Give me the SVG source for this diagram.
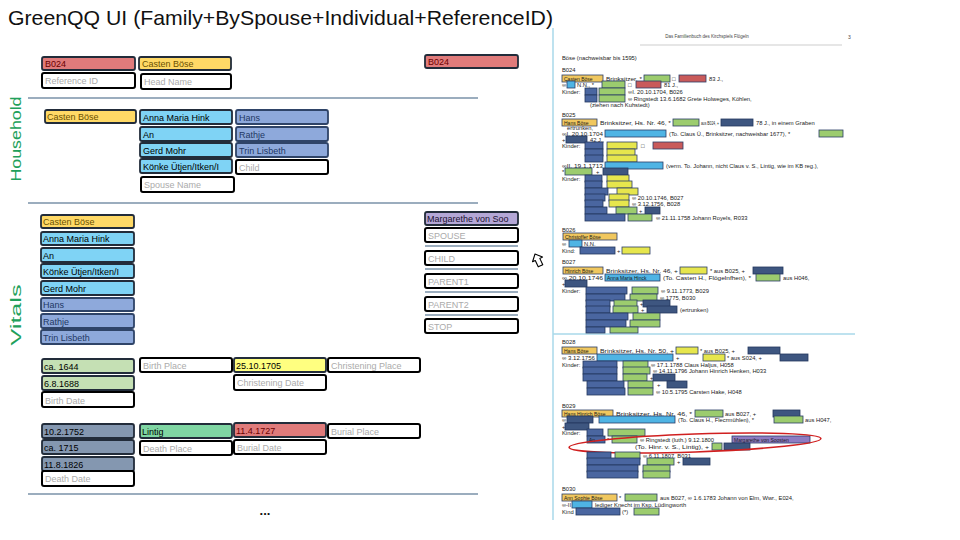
<svg xmlns="http://www.w3.org/2000/svg" width="960" height="540" viewBox="0 0 960 540">
<style>
text{font-family:"Liberation Sans",Arial,sans-serif}
.bx rect{stroke:#222c3a;stroke-width:1.8}
.bx text{font-size:9px}
.w rect{fill:#fff;stroke:#000;stroke-width:2}
.w text{fill:#ababab}
.red rect{fill:#e07b7b}.red text{fill:#6b0000}
.yel rect{fill:#ffd966}.yel text{fill:#6b5100}
.sky rect{fill:#7fd3f5}.sky text{fill:#000}
.per rect{fill:#8ea9db;stroke:#2f4468}.per text{fill:#1f3864}
.pur rect{fill:#b4a7d6}.pur text{fill:#1a1030}
.lg rect{fill:#c5e0b4}.lg text{fill:#000}
.by rect{fill:#ffff80}.by text{fill:#000}
.sl rect{fill:#8497b0}.sl text{fill:#000}
.gr rect{fill:#7fd6a3}.gr text{fill:#000}
.sep{stroke:#7a92a8;stroke-width:1.5}
.lbl{fill:#21a05a;font-size:15px}
.st{font-size:5.8px;fill:#222}
.sn{font-size:5px;fill:#1a1a1a}
.hy{fill:#f0c75e;stroke:#2c3e66;stroke-width:.8}
.hb{fill:#4fb4e4;stroke:#2c3e66;stroke-width:.8}
.hp{fill:#4a66a0;stroke:#24375e;stroke-width:.8}
.hg{fill:#9ccc6e;stroke:#2c3e66;stroke-width:.8}
.hr{fill:#c95a5a;stroke:#2c3e66;stroke-width:.8}
.hs{fill:#3e5680;stroke:#24375e;stroke-width:.8}
.hyl{fill:#e6e64d;stroke:#2c3e66;stroke-width:.8}
.hv{fill:#8e7cc3;stroke:#2c3e66;stroke-width:.8}
</style>
<rect width="960" height="540" fill="#fff"/>
<text x="8" y="25" font-size="21" fill="#111" textLength="545" lengthAdjust="spacingAndGlyphs" font-family="'Liberation Sans',Arial,sans-serif">GreenQQ UI (Family+BySpouse+Individual+ReferenceID)</text>

<text class="lbl" transform="translate(20.5,139) rotate(-90)" text-anchor="middle" textLength="85" lengthAdjust="spacingAndGlyphs">Household</text>
<text class="lbl" transform="translate(20.5,315) rotate(-90)" text-anchor="middle" textLength="61" lengthAdjust="spacingAndGlyphs">Vitals</text>

<g id="separators">
<line class="sep" x1="28" y1="98" x2="478" y2="98"/>
<line class="sep" x1="28" y1="203" x2="478" y2="203"/>
<line class="sep" x1="28" y1="494" x2="478" y2="494"/>
<line class="sep" x1="425" y1="246" x2="518" y2="246"/>
<line class="sep" x1="425" y1="269" x2="518" y2="269"/>
<line class="sep" x1="425" y1="292" x2="518" y2="292"/>
<line class="sep" x1="425" y1="315" x2="518" y2="315"/>
</g>
<g id="connectors"/>

<!-- header -->
<g id="hdr-ref" class="bx red"><rect x="42" y="57" width="93" height="13" rx="2"/><text x="45" y="67">B024</text></g>
<g id="hdr-head" class="bx yel"><rect x="139" y="57" width="92" height="13" rx="2"/><text x="142" y="67">Casten Böse</text></g>
<g id="hdr-ref-ph" class="bx w"><rect x="42" y="73" width="93" height="15" rx="2"/><text x="45" y="84">Reference ID</text></g>
<g id="hdr-head-ph" class="bx w"><rect x="141" y="74" width="90" height="15" rx="2"/><text x="144" y="85">Head Name</text></g>
<g id="hdr-ref2" class="bx red"><rect x="425" y="55" width="93" height="13" rx="2"/><text x="428" y="65">B024</text></g>

<!-- household -->
<g id="hh-head" class="bx yel"><rect x="45" y="110" width="91" height="13" rx="2"/><text x="47" y="120">Casten Böse</text></g>
<g id="hh-sp1" class="bx sky"><rect x="140" y="110" width="92" height="14" rx="2"/><text x="143" y="121">Anna Maria Hink</text></g>
<g id="hh-sp2" class="bx sky"><rect x="140" y="127" width="92" height="14" rx="2"/><text x="143" y="138">An</text></g>
<g id="hh-sp3" class="bx sky"><rect x="140" y="143" width="92" height="14" rx="2"/><text x="143" y="154">Gerd Mohr</text></g>
<g id="hh-sp4" class="bx sky"><rect x="140" y="159" width="92" height="14" rx="2"/><text x="143" y="170">Könke Ütjen/Itken/I</text></g>
<g id="hh-sp-ph" class="bx w"><rect x="141" y="177" width="93" height="15" rx="2"/><text x="144" y="188">Spouse Name</text></g>
<g id="hh-ch1" class="bx per"><rect x="236" y="110" width="92" height="14" rx="2"/><text x="239" y="121">Hans</text></g>
<g id="hh-ch2" class="bx per"><rect x="236" y="127" width="92" height="14" rx="2"/><text x="239" y="138">Rathje</text></g>
<g id="hh-ch3" class="bx per"><rect x="236" y="143" width="92" height="14" rx="2"/><text x="239" y="154">Trin Lisbeth</text></g>
<g id="hh-ch-ph" class="bx w"><rect x="236" y="160" width="92" height="14" rx="2"/><text x="239" y="171">Child</text></g>

<!-- vitals list -->
<g id="v-1" class="bx yel"><rect x="41" y="215" width="93" height="13" rx="2"/><text x="43" y="225">Casten Böse</text></g>
<g id="v-2" class="bx sky"><rect x="41" y="232" width="93" height="13" rx="2"/><text x="43" y="242">Anna Maria Hink</text></g>
<g id="v-3" class="bx sky"><rect x="41" y="248" width="93" height="14" rx="2"/><text x="43" y="259">An</text></g>
<g id="v-4" class="bx sky"><rect x="41" y="264" width="93" height="14" rx="2"/><text x="43" y="275">Könke Ütjen/Itken/I</text></g>
<g id="v-5" class="bx sky"><rect x="41" y="281" width="93" height="14" rx="2"/><text x="43" y="292">Gerd Mohr</text></g>
<g id="v-6" class="bx per"><rect x="41" y="298" width="93" height="13" rx="2"/><text x="43" y="308">Hans</text></g>
<g id="v-7" class="bx per"><rect x="41" y="314" width="93" height="14" rx="2"/><text x="43" y="325">Rathje</text></g>
<g id="v-8" class="bx per"><rect x="41" y="330" width="93" height="14" rx="2"/><text x="43" y="341">Trin Lisbeth</text></g>

<!-- right column -->
<g id="r-sel" class="bx pur"><rect x="425" y="212" width="93" height="13" rx="2"/><text x="427" y="222">Margarethe von Soo</text></g>
<g id="r-spouse" class="bx w"><rect x="425" y="228" width="93" height="14" rx="2"/><text x="428" y="239">SPOUSE</text></g>
<g id="r-child" class="bx w"><rect x="425" y="251" width="93" height="14" rx="2"/><text x="428" y="262">CHILD</text></g>
<g id="r-p1" class="bx w"><rect x="425" y="274" width="93" height="14" rx="2"/><text x="428" y="285">PARENT1</text></g>
<g id="r-p2" class="bx w"><rect x="425" y="297" width="93" height="14" rx="2"/><text x="428" y="308">PARENT2</text></g>
<g id="r-stop" class="bx w"><rect x="425" y="319" width="93" height="14" rx="2"/><text x="428" y="330">STOP</text></g>

<g id="cursor"><path d="M0 0 L5.5 6 L2.5 6 L2.5 13 L-2.5 13 L-2.5 6 L-5.5 6 Z" transform="translate(535,254) rotate(-25)" fill="#fff" stroke="#000" stroke-width="1.1" stroke-linejoin="round"/></g>

<!-- birth -->
<g id="b-1" class="bx lg"><rect x="42" y="359" width="92" height="14" rx="2"/><text x="44" y="370">ca. 1644</text></g>
<g id="b-place" class="bx w"><rect x="140" y="358" width="92" height="14" rx="2"/><text x="143" y="369">Birth Place</text></g>
<g id="c-1" class="bx by"><rect x="234" y="358" width="92" height="14" rx="2"/><text x="236" y="369">25.10.1705</text></g>
<g id="c-place" class="bx w"><rect x="328" y="358" width="92" height="14" rx="2"/><text x="331" y="369">Christening Place</text></g>
<g id="b-2" class="bx lg"><rect x="42" y="376" width="92" height="14" rx="2"/><text x="44" y="387">6.8.1688</text></g>
<g id="c-date" class="bx w"><rect x="234" y="375" width="92" height="15" rx="2"/><text x="237" y="386">Christening Date</text></g>
<g id="b-date" class="bx w"><rect x="42" y="392" width="92" height="15" rx="2"/><text x="45" y="404">Birth Date</text></g>

<!-- death -->
<g id="d-1" class="bx sl"><rect x="42" y="424" width="92" height="14" rx="2"/><text x="44" y="435">10.2.1752</text></g>
<g id="d-pl1" class="bx gr"><rect x="140" y="424" width="92" height="14" rx="2"/><text x="142" y="435">Lintig</text></g>
<g id="bu-1" class="bx red"><rect x="234" y="423" width="92" height="14" rx="2"/><text x="236" y="434">11.4.1727</text></g>
<g id="bu-place" class="bx w"><rect x="328" y="424" width="92" height="14" rx="2"/><text x="331" y="435">Burial Place</text></g>
<g id="d-2" class="bx sl"><rect x="42" y="440" width="92" height="14" rx="2"/><text x="44" y="451">ca. 1715</text></g>
<g id="d-place" class="bx w"><rect x="140" y="441" width="92" height="14" rx="2"/><text x="143" y="452">Death Place</text></g>
<g id="bu-date" class="bx w"><rect x="234" y="440" width="92" height="14" rx="2"/><text x="237" y="451">Burial Date</text></g>
<g id="d-3" class="bx sl"><rect x="42" y="457" width="92" height="14" rx="2"/><text x="44" y="468">11.8.1826</text></g>
<g id="d-date" class="bx w"><rect x="42" y="471" width="92" height="15" rx="2"/><text x="45" y="482">Death Date</text></g>

<text x="265" y="515" font-size="13" font-weight="bold" text-anchor="middle" fill="#111">...</text>

<!-- scanned page -->
<g id="scan">
<line x1="553" y1="28" x2="553" y2="520" stroke="#a8d8ea" stroke-width="1.5"/>
<line x1="553" y1="334" x2="855" y2="334" stroke="#a8d8ea" stroke-width="1.5"/>
<text x="707" y="38" font-size="4.5" text-anchor="middle" fill="#444">Das Familienbuch des Kirchspiels Flögeln</text>
<text x="848" y="39" font-size="5" fill="#444">3</text>
<line x1="640" y1="45" x2="842" y2="45" stroke="#999" stroke-width=".5"/>
<text class="st" x="562" y="60">Böse  (nachweisbar bis 1595)</text>
<text class="st" x="562" y="72">B024</text>
<rect class="hy" x="562" y="75" width="41" height="7"/><text class="sn" x="564" y="80.5">Casten Böse</text>
<text class="st" x="606" y="81" textLength="36" lengthAdjust="spacingAndGlyphs">Brinksitzer, *</text><rect class="hg" x="644" y="75" width="26" height="7"/><text class="st" x="672" y="81">□</text><rect class="hr" x="679" y="75" width="27" height="7"/><text class="st" x="709" y="81">83 J.,</text>
<text class="st" x="562" y="87">∞</text><rect class="hb" x="567" y="81" width="8" height="7"/><text class="st" x="577" y="87">N.N., *</text><rect class="hg" x="602" y="81" width="23" height="7"/><text class="st" x="628" y="87">□</text><rect class="hr" x="636" y="81" width="25" height="7"/><text class="st" x="664" y="87">81 J.,</text>
<text class="st" x="562" y="94">Kinder:</text><rect class="hp" x="585" y="88" width="12" height="7"/><rect class="hg" x="599" y="88" width="26" height="7"/><text class="st" x="628" y="94">∞I. 20.10.1704, B026</text>
<rect class="hp" x="585" y="95" width="12" height="7"/><rect class="hg" x="599" y="95" width="26" height="7"/><text class="st" x="628" y="101">∞ Ringstedt 13.6.1682 Grete Holweges, Köhlen,</text>
<text class="st" x="590" y="107">(ziehen nach Kuhstedt)</text>
<text class="st" x="562" y="117">B025</text>
<rect class="hy" x="562" y="119" width="35" height="7"/><text class="sn" x="564" y="124.5">Hans Böse</text>
<text class="st" x="600" y="125" textLength="71" lengthAdjust="spacingAndGlyphs">Brinksitzer, Hs. Nr. 46, *</text><rect class="hg" x="673" y="119" width="26" height="7"/><text class="st" x="701" y="125" textLength="18" lengthAdjust="spacingAndGlyphs">aus B024, +</text><rect class="hs" x="721" y="119" width="32" height="7"/><text class="st" x="756" y="125">78 J., in einem Graben</text>
<text class="st" x="567" y="130">ertrunken,</text>
<text class="st" x="562" y="136" textLength="41" lengthAdjust="spacingAndGlyphs">∞I. 20.10.1704</text><rect class="hb" x="605" y="130" width="61" height="7"/><text class="st" x="669" y="136">(To. Claus Ü., Brinksitzer, nachweisbar 1677), *</text><rect class="hg" x="819" y="130" width="24" height="7"/>
<text class="st" x="562" y="142">+</text><rect class="hs" x="566" y="136" width="21" height="7"/><text class="st" x="590" y="142">42 J.,</text>
<text class="st" x="562" y="148">Kinder:</text><rect class="hp" x="585" y="142" width="18" height="7"/><rect class="hyl" x="607" y="142" width="30" height="7"/><text class="st" x="641" y="148">□</text><rect class="hr" x="653" y="142" width="30" height="7"/>
<rect class="hp" x="585" y="149" width="18" height="7"/><rect class="hyl" x="607" y="149" width="28" height="7"/>
<rect class="hp" x="585" y="155" width="18" height="7"/><rect class="hyl" x="607" y="155" width="30" height="7"/>
<text class="st" x="562" y="168" textLength="41" lengthAdjust="spacingAndGlyphs">∞II. 19.1.1713</text><rect class="hb" x="605" y="162" width="58" height="7"/><text class="st" x="666" y="168">(verm. To. Johann, nicht Claus v. S., Lintig, wie im KB reg.),</text>
<text class="st" x="562" y="174">*</text><rect class="hg" x="565" y="168" width="27" height="7"/><text class="st" x="596" y="174">+</text><rect class="hs" x="603" y="168" width="25" height="7"/>
<text class="st" x="562" y="181">Kinder:</text><rect class="hp" x="585" y="175" width="17" height="7"/><rect class="hyl" x="607" y="175" width="22" height="7"/>
<rect class="hp" x="585" y="181" width="17" height="7"/><rect class="hyl" x="607" y="181" width="25" height="7"/>
<rect class="hp" x="585" y="188" width="23" height="7"/><rect class="hyl" x="617" y="188" width="21" height="7"/>
<rect class="hp" x="585" y="194" width="20" height="7"/><rect class="hyl" x="609" y="194" width="20" height="7"/><text class="st" x="632" y="200">∞ 20.10.1746, B027</text>
<rect class="hp" x="585" y="200" width="18" height="7"/><rect class="hyl" x="609" y="200" width="20" height="7"/><text class="st" x="632" y="206">∞ 3.12.1756, B028</text>
<rect class="hp" x="585" y="207" width="22" height="7"/><rect class="hg" x="616" y="207" width="21" height="7"/><text class="st" x="639" y="213">+</text><rect class="hs" x="645" y="207" width="15" height="7"/>
<rect class="hp" x="585" y="214" width="40" height="7"/><rect class="hg" x="628" y="214" width="24" height="7"/><text class="st" x="656" y="220">∞ 21.11.1758 Johann Royels, R033</text>
<text class="st" x="562" y="232">B026</text>
<rect class="hy" x="563" y="233" width="54" height="7"/><text class="sn" x="565" y="238.5">Christoffer Böse</text>
<text class="st" x="562" y="246">∞</text><rect class="hb" x="569" y="240" width="13" height="7"/><text class="st" x="584" y="246">N.N.</text>
<text class="st" x="562" y="253">Kind:</text><rect class="hp" x="580" y="247" width="35" height="7"/><text class="st" x="617" y="253">+</text><rect class="hyl" x="622" y="247" width="28" height="7"/>
<text class="st" x="562" y="264">B027</text>
<rect class="hy" x="563" y="267" width="40" height="7"/><text class="sn" x="565" y="272.5">Hinrich Böse</text>
<text class="st" x="606" y="273" textLength="72" lengthAdjust="spacingAndGlyphs">Brinksitzer, Hs. Nr. 46, +</text><rect class="hyl" x="680" y="267" width="27" height="7"/><text class="st" x="710" y="273">* aus B025, +</text><rect class="hs" x="753" y="267" width="30" height="7"/>
<text class="st" x="562" y="280" textLength="41" lengthAdjust="spacingAndGlyphs">∞ 20.10.1746</text><rect class="hb" x="605" y="274" width="55" height="7"/><text class="sn" x="607" y="279.5">Anna Maria Hinck</text><text class="st" x="663" y="280" textLength="88" lengthAdjust="spacingAndGlyphs">(To. Casten H., Flögelnfhen), *</text><rect class="hg" x="756" y="274" width="24" height="7"/><text class="st" x="783" y="280">aus H046,</text>
<text class="st" x="562" y="286">+</text><rect class="hs" x="565" y="280" width="22" height="7"/>
<text class="st" x="562" y="293">Kinder:</text><rect class="hp" x="586" y="287" width="41" height="7"/><rect class="hg" x="632" y="287" width="26" height="7"/><text class="st" x="661" y="293">∞ 9.11.1773, B029</text>
<rect class="hp" x="586" y="294" width="39" height="7"/><rect class="hg" x="630" y="294" width="27" height="7"/><text class="st" x="660" y="300">∞ 1775, B030</text>
<rect class="hp" x="586" y="300" width="24" height="7"/><rect class="hg" x="614" y="300" width="23" height="7"/><text class="st" x="640" y="306">+</text><rect class="hs" x="643" y="300" width="27" height="7"/>
<rect class="hp" x="586" y="306" width="24" height="7"/><rect class="hg" x="613" y="306" width="25" height="7"/><text class="st" x="641" y="312">+</text><rect class="hs" x="647" y="306" width="30" height="7"/><text class="st" x="680" y="312">(ertrunken)</text>
<rect class="hp" x="586" y="313" width="42" height="7"/><rect class="hg" x="633" y="313" width="27" height="7"/>
<rect class="hp" x="586" y="320" width="40" height="7"/><rect class="hg" x="630" y="320" width="30" height="7"/>
<rect class="hp" x="586" y="327" width="19" height="6"/><rect class="hg" x="610" y="327" width="28" height="6"/>
<text class="st" x="562" y="344">B028</text>
<rect class="hy" x="562" y="347" width="35" height="7"/><text class="sn" x="564" y="352.5">Hans Böse</text>
<text class="st" x="600" y="353" textLength="74" lengthAdjust="spacingAndGlyphs">Brinksitzer, Hs. Nr. 50, +</text><rect class="hyl" x="676" y="347" width="22" height="7"/><text class="st" x="700" y="353">* aus B025, +</text><rect class="hs" x="748" y="347" width="32" height="7"/>
<text class="st" x="562" y="360" textLength="33" lengthAdjust="spacingAndGlyphs">∞ 3.12.1756</text><rect class="hb" x="597" y="354" width="76" height="7"/><text class="st" x="676" y="360">+</text><rect class="hyl" x="703" y="354" width="22" height="7"/><text class="st" x="727" y="360">* aus S024, +</text><rect class="hs" x="780" y="354" width="28" height="7"/>
<text class="st" x="562" y="367">Kinder:</text><rect class="hp" x="583" y="361" width="34" height="7"/><rect class="hg" x="623" y="361" width="25" height="7"/><text class="st" x="651" y="367">∞ 17.1.1788 Claus Haljus, H058</text>
<rect class="hp" x="583" y="367" width="34" height="7"/><rect class="hg" x="623" y="367" width="27" height="7"/><text class="st" x="653" y="373">∞ 14.11.1796 Johann Hinrich Henken, H033</text>
<rect class="hp" x="583" y="374" width="34" height="7"/><rect class="hg" x="623" y="374" width="24" height="7"/><text class="st" x="650" y="380">+</text><rect class="hs" x="653" y="374" width="22" height="7"/>
<rect class="hp" x="587" y="381" width="37" height="7"/><rect class="hg" x="628" y="381" width="25" height="7"/><text class="st" x="657" y="387">+</text><rect class="hs" x="667" y="381" width="20" height="7"/>
<rect class="hp" x="587" y="388" width="38" height="7"/><rect class="hg" x="628" y="388" width="25" height="7"/><text class="st" x="656" y="394">∞ 10.5.1795 Carsten Hake, H048</text>
<text class="st" x="562" y="408">B029</text>
<rect class="hy" x="562" y="410" width="51" height="7"/><text class="sn" x="564" y="415.5">Hans Hinrich Böse</text>
<text class="st" x="616" y="416" textLength="76" lengthAdjust="spacingAndGlyphs">Brinksitzer, Hs. Nr. 46, *</text><rect class="hg" x="695" y="410" width="28" height="7"/><text class="st" x="725" y="416">aus B027, +</text><rect class="hs" x="773" y="410" width="27" height="7"/>
<text class="st" x="562" y="422">∞</text><rect class="hs" x="567" y="416" width="26" height="7"/><rect class="hb" x="599" y="416" width="76" height="7"/><text class="st" x="678" y="422">(To. Claus H., Flecrmühlen), *</text><rect class="hg" x="774" y="416" width="29" height="7"/><text class="st" x="805" y="422">aus H047,</text>
<text class="st" x="562" y="429">+</text><rect class="hs" x="565" y="423" width="24" height="7"/>
<text class="st" x="562" y="435">Kinder:</text><rect class="hp" x="587" y="429" width="16" height="7"/><rect class="hg" x="608" y="429" width="37" height="7"/>
<rect class="hp" x="587" y="436" width="18" height="7"/><text class="sn" x="589" y="441.5" fill="#fff">An</text><text class="st" x="607" y="442">*</text><rect class="hg" x="612" y="436" width="25" height="7"/><text class="st" x="640" y="442">∞ Ringstedt (luth.) 9.12.1800</text><rect class="hv" x="732" y="436" width="78" height="7"/><text class="sn" x="734" y="441.5" fill="#fff">Margarethe von Soosten</text>
<text class="st" x="635" y="449" textLength="74" lengthAdjust="spacingAndGlyphs">(To. Hinr. v. S., Lintig), +</text><rect class="hg" x="712" y="443" width="10" height="7"/><rect class="hs" x="724" y="443" width="26" height="7"/>
<ellipse cx="695" cy="443" rx="126" ry="9" fill="none" stroke="#d02020" stroke-width="1.6" transform="rotate(-2 695 443)"/>
<rect class="hp" x="587" y="452" width="24" height="7"/><rect class="hg" x="615" y="452" width="25" height="7"/><text class="st" x="643" y="458">∞ 6.11.1807, B031</text>
<rect class="hp" x="587" y="458" width="53" height="7"/><rect class="hg" x="647" y="458" width="27" height="7"/><text class="st" x="677" y="464">+</text><rect class="hs" x="683" y="458" width="27" height="7"/>
<rect class="hp" x="587" y="465" width="51" height="7"/><rect class="hg" x="643" y="465" width="27" height="7"/>
<rect class="hp" x="587" y="471" width="51" height="7"/><rect class="hg" x="643" y="471" width="27" height="7"/>
<text class="st" x="562" y="491">B030</text>
<rect class="hy" x="562" y="494" width="55" height="7"/><text class="sn" x="564" y="499.5">Ann Sophie Böse</text>
<text class="st" x="619" y="500">*</text><rect class="hg" x="625" y="494" width="32" height="7"/><text class="st" x="660" y="500">aus B027, ∞ 1.6.1783 Johann von Elm, Wwr., E024,</text>
<text class="st" x="562" y="507" textLength="9" lengthAdjust="spacingAndGlyphs">∞-II</text><rect class="hb" x="572" y="501" width="20" height="7"/><text class="st" x="595" y="507">lediger Knecht im Ksp. Lüdingworth</text>
<text class="st" x="562" y="514">Kind</text><rect class="hp" x="576" y="508" width="44" height="7"/><text class="st" x="622" y="514">(*)</text><rect class="hg" x="634" y="508" width="25" height="7"/>
</g>
</svg>
